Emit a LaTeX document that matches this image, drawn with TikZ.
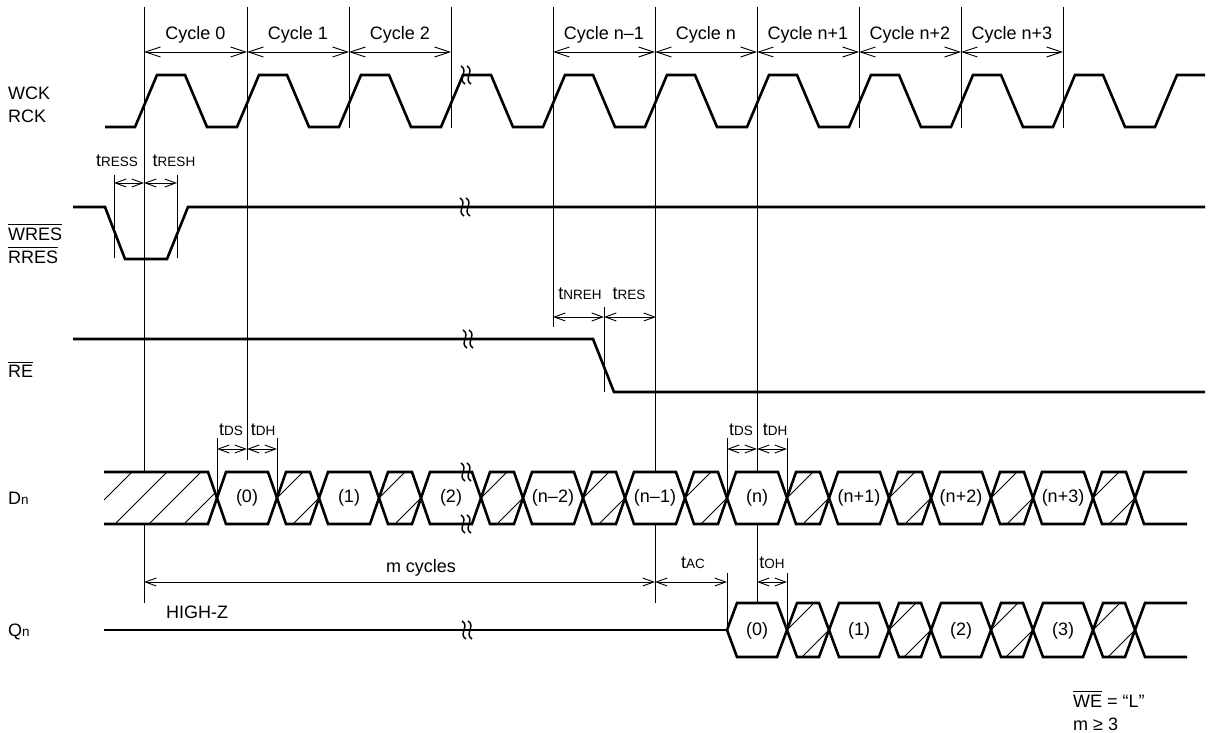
\documentclass[tikz,border=0pt]{standalone}
\usepackage{fontspec}
\setmainfont{Liberation Sans}
\usetikzlibrary{arrows.meta}
\newcommand\tsub[1]{{\fontsize{13.5}{15}\selectfont #1}}
\newcommand\ovl[1]{\leavevmode\vbox{\hrule height 1.1pt\kern 2.2pt\hbox{#1}}}
\newcommand\brkmark[2]{%
  \draw[brkst] ({#1-5},{#2-9}) .. controls ({#1+3},{#2-4}) and ({#1-9},{#2+4}) .. ({#1-1},{#2+9});
  \draw[brkst] ({#1+1},{#2-9}) .. controls ({#1+9},{#2-4}) and ({#1-3},{#2+4}) .. ({#1+5},{#2+9});}
\begin{document}
\begin{tikzpicture}[x=1pt,y=-1pt,
  wave/.style={line width=2.6pt,line join=miter},
  thinl/.style={line width=0.9pt},
  hat/.style={line width=0.9pt},
  brkst/.style={line width=1.5pt},
  cyc/.style={line width=0.9pt,{Straight Barb[length=15pt,width=10pt]}-{Straight Barb[length=15pt,width=10pt]}},
  tarr/.style={line width=0.9pt,{Straight Barb[length=11pt,width=8pt]}-{Straight Barb[length=11pt,width=8pt]}},
  lbl/.style={font=\fontsize{18}{21}\selectfont,inner sep=0pt},
]
\fill[white] (0,0) rectangle (1208,733);
\useasboundingbox (0,0) rectangle (1208,733);

% cycle reference lines (interrupted by the Dn bus)
\foreach \x/\yb in {247/460,349/128,451/128,553/327,859/128,961/128,1063/128}
  \draw[thinl] (\x,7) -- (\x,\yb);
\foreach \x in {144,655,757} {
  \draw[thinl] (\x,7) -- (\x,472);
  \draw[thinl] (\x,524) -- (\x,603);
}

% cycle arrows and labels
\foreach \a/\b in {144/247,247/349,349/451,553/655,655/757,757/859,859/961,961/1063}
  \draw[cyc] (\a,52) -- (\b,52);
\foreach \x/\t [count=\i] in {195.5/Cycle 0,298/Cycle 1,400/Cycle 2,604/Cycle n–1,706/Cycle n,808/Cycle n+1,910/Cycle n+2,1012/Cycle n+3}
  \node[lbl,anchor=base] (cyc\i) at (\x,39.5) {\t};

% signal names
\node[lbl,anchor=base west] (wck) at (8,100) {WCK};
\node[lbl,anchor=base west] (rck) at (8,122.5) {RCK};
\node[lbl,anchor=base west] (wres) at (8,240) {\ovl{WRES}};
\node[lbl,anchor=base west] (rres) at (8,263) {\ovl{RRES}};
\node[lbl,anchor=base west] (re) at (8,377.5) {\ovl{RE}};
\node[lbl,anchor=base west] (dn) at (8,504.5) {D\tsub{n}};
\node[lbl,anchor=base west] (qn) at (8,636.5) {Q\tsub{n}};

% clock
\draw[wave] (105,127) foreach \k in {0,...,9} { -- ({135+102*\k},127) -- ({157+102*\k},75) -- ({185+102*\k},75) -- ({207+102*\k},127) } -- (1155,127) -- (1177,75) -- (1205,75);
\brkmark{466}{75}

% WRES / RRES
\draw[wave] (73,207) -- (105,207) -- (125,259) -- (167,259) -- (188,207) -- (1205,207);
\brkmark{465}{207}
\draw[thinl] (114,175) -- (114,258);
\draw[thinl] (177,175) -- (177,258);
\draw[tarr] (114,183) -- (144,183);
\draw[tarr] (144,183) -- (177,183);
\node[lbl,anchor=base] (tress) at (117,167) {t\tsub{RESS}};
\node[lbl,anchor=base] (tresh) at (174,167) {t\tsub{RESH}};

% RE
\draw[wave] (73,339) -- (593,339) -- (614,392) -- (1205,392);
\brkmark{468}{339}
\draw[thinl] (604,307) -- (604,392);
\draw[tarr] (553,317) -- (604,317);
\draw[tarr] (604,317) -- (656,317);
\node[lbl,anchor=base] (tnreh) at (580,299) {t\tsub{NREH}};
\node[lbl,anchor=base] (tres) at (629,299) {t\tsub{RES}};

% Dn
\begin{scope}
  \clip (104,472) -- (208,472) -- (217,498) -- (208,524) -- (104,524) -- cycle;
  \foreach \s in {604,639,673,708} \draw[hat] ({\s-524},524) -- ({\s-472},472);
\end{scope}
\draw[wave] (104,472) -- (208,472) foreach \k in {0,...,8} { -- ({226+102*\k},524) -- ({268+102*\k},524) -- ({286+102*\k},472) -- ({310+102*\k},472) } -- (1144,524) -- (1187,524);
\draw[wave] (104,524) -- (208,524) foreach \k in {0,...,8} { -- ({226+102*\k},472) -- ({268+102*\k},472) -- ({286+102*\k},524) -- ({310+102*\k},524) } -- (1144,472) -- (1187,472);
\foreach \k in {0,...,8} {
  \draw[hat] ({277+102*\k},498) -- ({303+102*\k},472);
  \draw[hat] ({293+102*\k},524) -- ({319+102*\k},498);
}
\brkmark{466}{472}
\brkmark{466}{524}
\foreach \x/\t [count=\i] in {247/(0),349/(1),451/(2),553/(n–2),655/(n–1),757/(n),859/(n+1),961/(n+2),1063/(n+3)}
  \node[lbl] (d\i) at (\x,498) {\t};

% tDS / tDH
\foreach \x in {217,277,727,787} \draw[thinl] (\x,438) -- (\x,498);
\draw[tarr] (217,449) -- (247,449);
\draw[tarr] (247,449) -- (277,449);
\draw[tarr] (727,449) -- (757,449);
\draw[tarr] (757,449) -- (787,449);
\node[lbl,anchor=base] (tds1) at (231,435) {t\tsub{DS}};
\node[lbl,anchor=base] (tdh1) at (263,435) {t\tsub{DH}};
\node[lbl,anchor=base] (tds2) at (741,435) {t\tsub{DS}};
\node[lbl,anchor=base] (tdh2) at (775,435) {t\tsub{DH}};

% Qn
\draw[wave] (104,630) -- (727,630);
\brkmark{467}{630}
\draw[wave] (727,630) -- (737,603) foreach \k in {0,...,3} { -- ({777+102*\k},603) -- ({797+102*\k},657) -- ({819+102*\k},657) -- ({839+102*\k},603) } -- (1187,603);
\draw[wave] (727,630) -- (737,657) foreach \k in {0,...,3} { -- ({777+102*\k},657) -- ({797+102*\k},603) -- ({819+102*\k},603) -- ({839+102*\k},657) } -- (1187,657);
\foreach \k in {0,...,3} {
  \draw[hat] ({787+102*\k},630) -- ({814+102*\k},603);
  \draw[hat] ({802+102*\k},657) -- ({829+102*\k},630);
}
\foreach \x/\t [count=\i] in {757/(0),859/(1),961/(2),1063/(3)}
  \node[lbl] (q\i) at (\x,631) {\t};
\node[lbl,anchor=base west] (hz) at (166,618.5) {HIGH-Z};

% m cycles, tAC, tOH
\draw[thinl] (727,573) -- (727,630);
\draw[thinl] (787,573) -- (787,630);
\draw[tarr] (144,582) -- (655,582);
\draw[tarr] (655,582) -- (727,582);
\draw[tarr] (757,582) -- (787,582);
\node[lbl,anchor=base] (mcyc) at (421,572) {m cycles};
\node[lbl,anchor=base] (tac) at (693,568) {t\tsub{AC}};
\node[lbl,anchor=base] (toh) at (772,568) {t\tsub{OH}};

% notes
\node[lbl,anchor=base west] (note1) at (1073,707) {\ovl{WE} = “L”};
\node[lbl,anchor=base west] (note2) at (1073,730) {m ≥ 3};
\end{tikzpicture}
\end{document}
